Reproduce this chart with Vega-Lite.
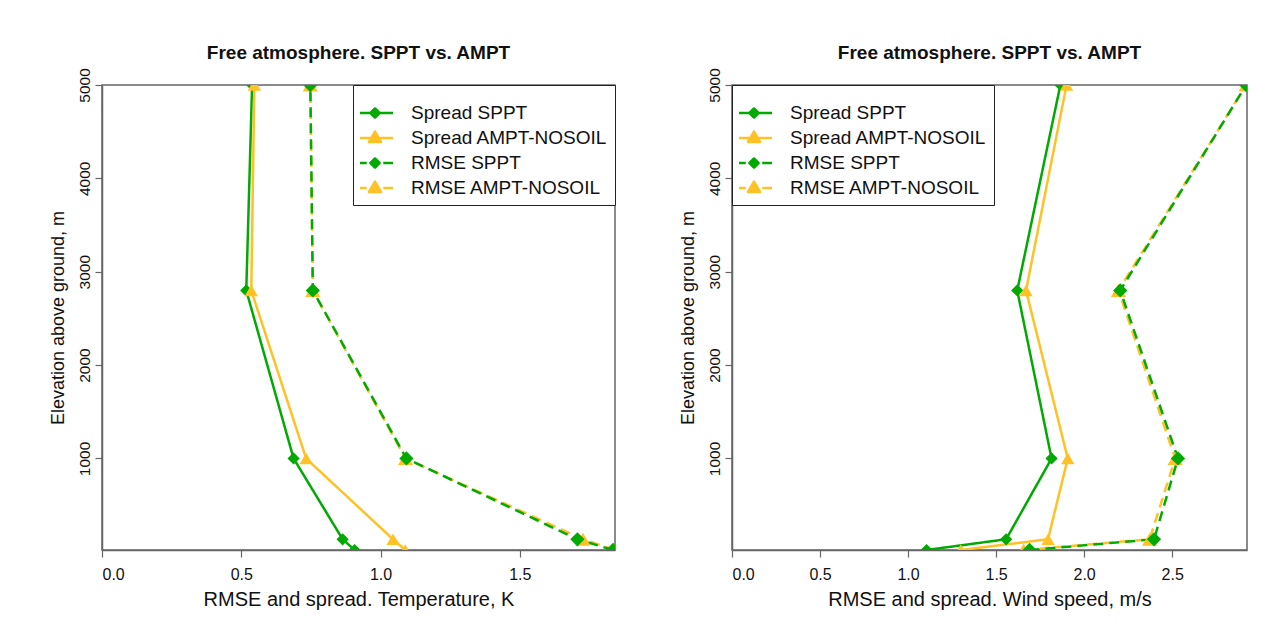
{
  "$schema": "https://vega.github.io/schema/vega-lite/v6.json",
  "padding": {"left": 48, "top": 43, "right": 5, "bottom": 5},
  "spacing": 61,
  "background": "white",
  "config": {
    "font": "Liberation Sans",
    "view": {"stroke": "#666666", "strokeWidth": 1.5},
    "axis": {
      "domainColor": "#666666", "domainWidth": 1.5, "tickColor": "#666666", "tickWidth": 1.2, "tickSize": 7,
      "grid": false, "labelColor": "#111111", "titleColor": "#111111",
      "labelFont": "Liberation Sans", "titleFont": "Liberation Sans", "titleFontWeight": "normal"
    },
    "axisX": {"labelFontSize": 16, "labelPadding": 9, "titleFontSize": 20, "titlePadding": 7},
    "axisY": {"labelFontSize": 15.5, "labelPadding": 3, "titleFontSize": 18, "titlePadding": 10, "labelAngle": -90},
    "title": {"font": "Liberation Sans", "fontSize": 19, "fontWeight": "bold", "color": "#111111", "offset": 5},
    "legend": {
      "orient": "top-right", "offset": 0, "strokeColor": "#222222", "strokeWidth": 1, "fillColor": "white",
      "padding": 7, "labelFont": "Liberation Sans", "labelFontSize": 19, "labelColor": "#111111",
      "labelOffset": 21, "rowPadding": 5, "symbolSize": 756, "symbolStrokeWidth": 2.5,
      "titleFontSize": 8, "titlePadding": 3.5, "labelLimit": 400, "clipHeight": 19
    }
  },
  "resolve": {"legend": {"color": "independent"}},
  "hconcat": [
    {
      "width": 513,
      "height": 465,
      "title": "Free atmosphere. SPPT vs. AMPT",
      "data": {"values": [
        {"series": "Spread SPPT", "elev": 5000, "val": 0.539},
        {"series": "Spread SPPT", "elev": 2800, "val": 0.518},
        {"series": "Spread SPPT", "elev": 1000, "val": 0.688},
        {"series": "Spread SPPT", "elev": 135, "val": 0.864},
        {"series": "Spread SPPT", "elev": 20, "val": 0.907},
        {"series": "Spread AMPT-NOSOIL", "elev": 5000, "val": 0.547},
        {"series": "Spread AMPT-NOSOIL", "elev": 2800, "val": 0.536},
        {"series": "Spread AMPT-NOSOIL", "elev": 1000, "val": 0.733},
        {"series": "Spread AMPT-NOSOIL", "elev": 135, "val": 1.045},
        {"series": "Spread AMPT-NOSOIL", "elev": 20, "val": 1.089},
        {"series": "RMSE AMPT-NOSOIL", "elev": 5000, "val": 0.748},
        {"series": "RMSE AMPT-NOSOIL", "elev": 2800, "val": 0.757},
        {"series": "RMSE AMPT-NOSOIL", "elev": 1000, "val": 1.09},
        {"series": "RMSE AMPT-NOSOIL", "elev": 135, "val": 1.727},
        {"series": "RMSE AMPT-NOSOIL", "elev": 20, "val": 1.842},
        {"series": "RMSE SPPT", "elev": 5000, "val": 0.748},
        {"series": "RMSE SPPT", "elev": 2800, "val": 0.757},
        {"series": "RMSE SPPT", "elev": 1000, "val": 1.093},
        {"series": "RMSE SPPT", "elev": 135, "val": 1.707},
        {"series": "RMSE SPPT", "elev": 20, "val": 1.835}
      ]},
      "encoding": {
        "x": {"field": "val", "type": "quantitative",
          "scale": {"domain": [0, 1.842], "nice": false, "zero": false},
          "axis": {"title": "RMSE and spread. Temperature, K", "values": [0, 0.5, 1, 1.5], "format": ".1f"}},
        "y": {"field": "elev", "type": "quantitative",
          "scale": {"domain": [20, 5000], "nice": false, "zero": false},
          "axis": {"title": "Elevation above ground, m", "values": [1000, 2000, 3000, 4000, 5000], "format": "d"}},
        "color": {"field": "series", "type": "nominal",
          "scale": {"domain": ["Spread SPPT", "Spread AMPT-NOSOIL", "RMSE SPPT", "RMSE AMPT-NOSOIL"], "range": ["#00AA00", "#FFC125", "#00AA00", "#FFC125"]},
          "legend": {"title": " ", "orient": "top-right",
            "encode": {"symbols": {"update": {
              "shape": {"signal": "datum.value == 'Spread SPPT' ? 'M-1.31,0H1.31M0,-0.33L0.33,0L0,0.33L-0.33,0Z' : datum.value == 'Spread AMPT-NOSOIL' ? 'M-1.31,0H1.31M-0.44,0.29L0.44,0.29L0,-0.47Z' : datum.value == 'RMSE SPPT' ? 'M-1.31,0H-0.6M-0.35,0H0.35M0.6,0H1.31M0,-0.33L0.33,0L0,0.33L-0.33,0Z' : 'M-1.31,0H-0.6M-0.35,0H0.35M0.6,0H1.31M-0.44,0.29L0.44,0.29L0,-0.47Z'"},
              "fill": {"signal": "indexof(datum.value, 'SPPT') >= 0 ? '#00AA00' : '#FFC125'"},
              "stroke": {"signal": "indexof(datum.value, 'SPPT') >= 0 ? '#00AA00' : '#FFC125'"},
              "strokeWidth": {"value": 2.5},
              "strokeDash": {"value": []},
              "strokeJoin": {"value": "round"},
              "opacity": {"value": 1},
              "fillOpacity": {"value": 1},
              "size": {"value": 756}
            }}}}
        }
      },
      "layer": [
        {
          "mark": {"type": "line", "strokeWidth": 2.5, "clip": true},
          "encoding": {
            "order": {"field": "elev", "type": "quantitative"},
            "strokeDash": {"field": "series", "type": "nominal",
              "scale": {"domain": ["Spread SPPT", "Spread AMPT-NOSOIL", "RMSE SPPT", "RMSE AMPT-NOSOIL"], "range": [[1, 0], [1, 0], [10, 6], [10, 6]]},
              "legend": null}
          }
        },
        {
          "mark": {"type": "point", "filled": true, "opacity": 1, "clip": true},
          "encoding": {
            "shape": {"field": "series", "type": "nominal",
              "scale": {"domain": ["Spread SPPT", "Spread AMPT-NOSOIL", "RMSE SPPT", "RMSE AMPT-NOSOIL"], "range": ["diamond", "triangle-up", "diamond", "triangle-up"]},
              "legend": null},
            "size": {"field": "series", "type": "nominal",
              "scale": {"domain": ["Spread SPPT", "Spread AMPT-NOSOIL", "RMSE SPPT", "RMSE AMPT-NOSOIL"], "range": [150, 230, 150, 230]},
              "legend": null}
          }
        }
      ]
    },
    {
      "width": 515,
      "height": 465,
      "title": "Free atmosphere. SPPT vs. AMPT",
      "data": {"values": [
        {"series": "Spread SPPT", "elev": 5000, "val": 1.865},
        {"series": "Spread SPPT", "elev": 2800, "val": 1.62},
        {"series": "Spread SPPT", "elev": 1000, "val": 1.815},
        {"series": "Spread SPPT", "elev": 135, "val": 1.557},
        {"series": "Spread SPPT", "elev": 20, "val": 1.105},
        {"series": "Spread AMPT-NOSOIL", "elev": 5000, "val": 1.9},
        {"series": "Spread AMPT-NOSOIL", "elev": 2800, "val": 1.67},
        {"series": "Spread AMPT-NOSOIL", "elev": 1000, "val": 1.907},
        {"series": "Spread AMPT-NOSOIL", "elev": 135, "val": 1.795},
        {"series": "Spread AMPT-NOSOIL", "elev": 20, "val": 1.3},
        {"series": "RMSE AMPT-NOSOIL", "elev": 5000, "val": 2.92},
        {"series": "RMSE AMPT-NOSOIL", "elev": 2800, "val": 2.195},
        {"series": "RMSE AMPT-NOSOIL", "elev": 1000, "val": 2.517},
        {"series": "RMSE AMPT-NOSOIL", "elev": 135, "val": 2.372},
        {"series": "RMSE AMPT-NOSOIL", "elev": 20, "val": 1.656},
        {"series": "RMSE SPPT", "elev": 5000, "val": 2.92},
        {"series": "RMSE SPPT", "elev": 2800, "val": 2.205},
        {"series": "RMSE SPPT", "elev": 1000, "val": 2.533},
        {"series": "RMSE SPPT", "elev": 135, "val": 2.397},
        {"series": "RMSE SPPT", "elev": 20, "val": 1.69}
      ]},
      "encoding": {
        "x": {"field": "val", "type": "quantitative",
          "scale": {"domain": [0, 2.925], "nice": false, "zero": false},
          "axis": {"title": "RMSE and spread. Wind speed, m/s", "values": [0, 0.5, 1, 1.5, 2, 2.5], "format": ".1f"}},
        "y": {"field": "elev", "type": "quantitative",
          "scale": {"domain": [20, 5000], "nice": false, "zero": false},
          "axis": {"title": "Elevation above ground, m", "values": [1000, 2000, 3000, 4000, 5000], "format": "d"}},
        "color": {"field": "series", "type": "nominal",
          "scale": {"domain": ["Spread SPPT", "Spread AMPT-NOSOIL", "RMSE SPPT", "RMSE AMPT-NOSOIL"], "range": ["#00AA00", "#FFC125", "#00AA00", "#FFC125"]},
          "legend": {"title": " ", "orient": "top-left",
            "encode": {"symbols": {"update": {
              "shape": {"signal": "datum.value == 'Spread SPPT' ? 'M-1.31,0H1.31M0,-0.33L0.33,0L0,0.33L-0.33,0Z' : datum.value == 'Spread AMPT-NOSOIL' ? 'M-1.31,0H1.31M-0.44,0.29L0.44,0.29L0,-0.47Z' : datum.value == 'RMSE SPPT' ? 'M-1.31,0H-0.6M-0.35,0H0.35M0.6,0H1.31M0,-0.33L0.33,0L0,0.33L-0.33,0Z' : 'M-1.31,0H-0.6M-0.35,0H0.35M0.6,0H1.31M-0.44,0.29L0.44,0.29L0,-0.47Z'"},
              "fill": {"signal": "indexof(datum.value, 'SPPT') >= 0 ? '#00AA00' : '#FFC125'"},
              "stroke": {"signal": "indexof(datum.value, 'SPPT') >= 0 ? '#00AA00' : '#FFC125'"},
              "strokeWidth": {"value": 2.5},
              "strokeDash": {"value": []},
              "strokeJoin": {"value": "round"},
              "opacity": {"value": 1},
              "fillOpacity": {"value": 1},
              "size": {"value": 756}
            }}}}
        }
      },
      "layer": [
        {
          "mark": {"type": "line", "strokeWidth": 2.5, "clip": true},
          "encoding": {
            "order": {"field": "elev", "type": "quantitative"},
            "strokeDash": {"field": "series", "type": "nominal",
              "scale": {"domain": ["Spread SPPT", "Spread AMPT-NOSOIL", "RMSE SPPT", "RMSE AMPT-NOSOIL"], "range": [[1, 0], [1, 0], [10, 6], [10, 6]]},
              "legend": null}
          }
        },
        {
          "mark": {"type": "point", "filled": true, "opacity": 1, "clip": true},
          "encoding": {
            "shape": {"field": "series", "type": "nominal",
              "scale": {"domain": ["Spread SPPT", "Spread AMPT-NOSOIL", "RMSE SPPT", "RMSE AMPT-NOSOIL"], "range": ["diamond", "triangle-up", "diamond", "triangle-up"]},
              "legend": null},
            "size": {"field": "series", "type": "nominal",
              "scale": {"domain": ["Spread SPPT", "Spread AMPT-NOSOIL", "RMSE SPPT", "RMSE AMPT-NOSOIL"], "range": [150, 230, 150, 230]},
              "legend": null}
          }
        }
      ]
    }
  ]
}
